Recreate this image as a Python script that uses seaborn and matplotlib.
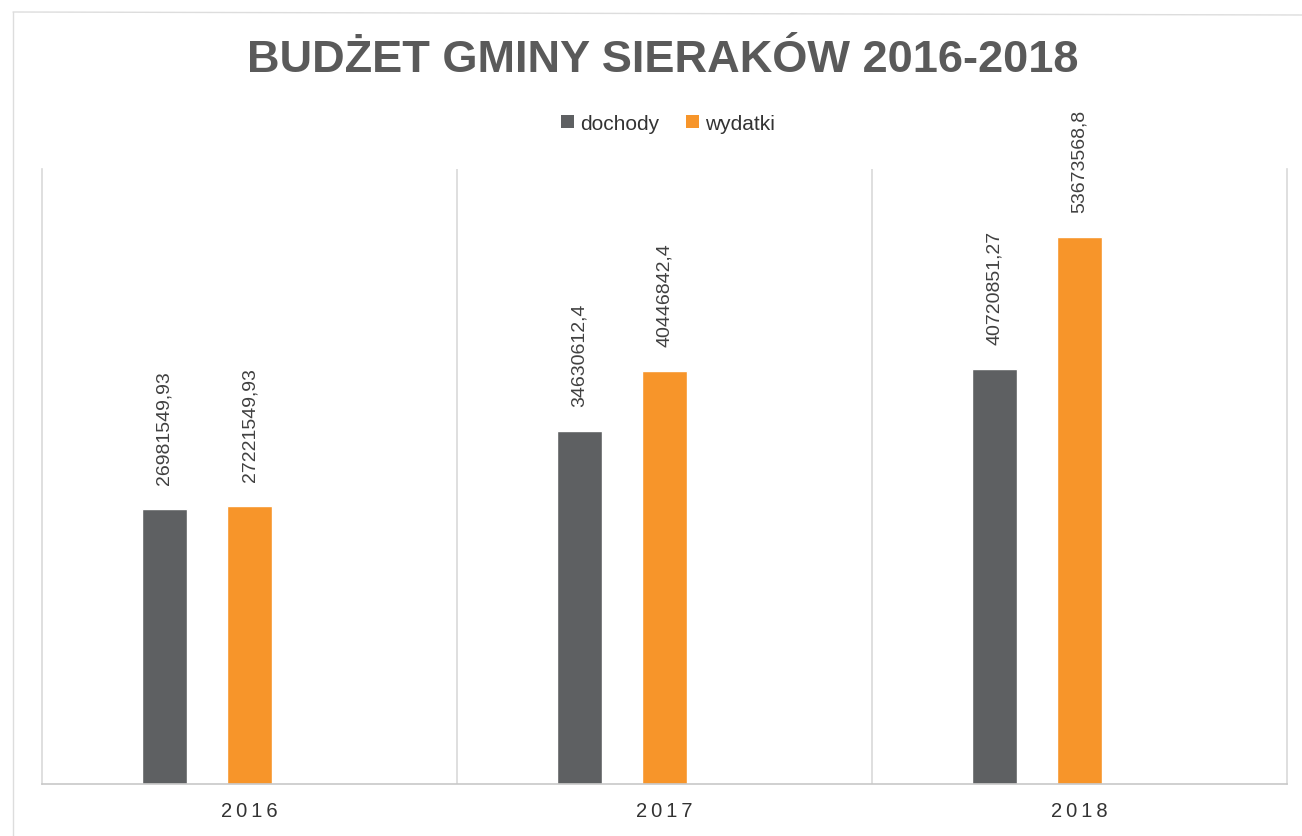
import pandas as pd
import matplotlib.pyplot as plt
import seaborn as sns
from matplotlib.patches import Patch
from matplotlib.lines import Line2D

# Chart data
years = ['2016', '2017', '2018']
dochody = [26981549.93, 34630612.4, 40720851.27]
wydatki = [27221549.93, 40446842.4, 53673568.8]
series_names = ['dochody', 'wydatki']
# third (empty) series keeps the original layout of the office chart
empty_series = [0, 0, 0]

gray = '#5e6062'
orange = '#f7952a'

# Build long-form table
data = pd.DataFrame({
    'rok': years * 3,
    'seria': ['dochody'] * 3 + ['wydatki'] * 3 + ['pusta'] * 3,
    'kwota': dochody + wydatki + empty_series,
})

sns.set_theme(style='white')
plt.rcParams['font.family'] = ['Liberation Sans', 'DejaVu Sans']

fig = plt.figure(figsize=(13.02, 8.37), dpi=100)
ax = fig.add_axes([42 / 1302, 52 / 837, (1287 - 42) / 1302, (785 - 170) / 837])

sns.barplot(data=data, x='rok', y='kwota', hue='seria',
            hue_order=['dochody', 'wydatki', 'pusta'],
            palette=[gray, orange, 'white'], saturation=1,
            width=0.615, gap=0.47, legend=False, ax=ax)

ax.set_xlim(-0.5, 2.5)
ax.set_ylim(0, 60300000)
ax.set_yticks([])
ax.set_xlabel('')
ax.set_ylabel('')

# category separators
ax.set_xticks([0.5, 1.5], minor=True)
ax.grid(which='minor', axis='x', color='#d9d9d9', linewidth=1.2)
ax.tick_params(axis='x', which='both', length=0, pad=12, labelsize=14.5, labelcolor='#333333')
ax.set_xticks(range(len(years)))
ax.set_xticklabels(['\u2009'.join(y) for y in years])

for side in ['left', 'right']:
    ax.spines[side].set_color('#d9d9d9')
    ax.spines[side].set_linewidth(1.2)
ax.spines['top'].set_visible(False)
ax.spines['bottom'].set_color('#c8c8c8')
ax.spines['bottom'].set_linewidth(1.2)

# value labels above bars
for cont, vals in zip(ax.containers[:2], [dochody, wydatki]):
    labels = [str(v).replace('.', ',') for v in vals]
    ax.bar_label(cont, labels=labels, rotation=90, padding=18,
                 fontsize=14, color='#404040')

# title and legend
fig.text(663 / 1302, 1 - 60 / 837, 'BUDŻET GMINY SIERAKÓW 2016-2018',
         ha='center', va='center', fontsize=32.5, fontweight='bold', color='#5a5a5a')

handles = [Patch(facecolor=gray, edgecolor='none'),
           Patch(facecolor=orange, edgecolor='none')]
fig.legend(handles, series_names, loc='center', bbox_to_anchor=(668 / 1302, 1 - 124 / 837),
           ncol=2, frameon=False, fontsize=15, handlelength=0.6, handleheight=0.6,
           handletextpad=0.3, columnspacing=1.3, labelcolor='#333333')

# faint page border from the scan
fig.add_artist(Line2D([13 / 1302, 1], [1 - 13 / 837, 1 - 16 / 837],
                      transform=fig.transFigure, color='#dddddd', linewidth=1))
fig.add_artist(Line2D([13 / 1302, 13 / 1302], [0, 1 - 13 / 837],
                      transform=fig.transFigure, color='#dddddd', linewidth=1))

fig.savefig('out.png', dpi=100)
